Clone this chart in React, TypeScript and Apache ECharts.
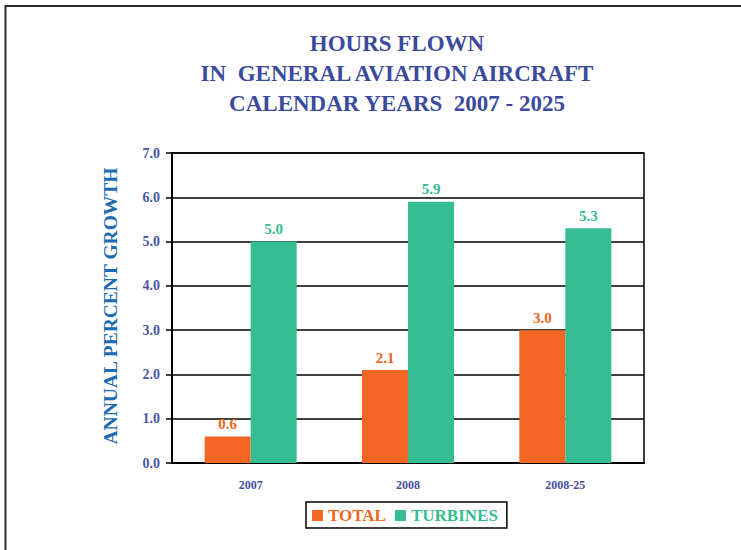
import React, { useEffect, useRef } from "react";
import * as echarts from "echarts";

const categories = ["2007", "2008", "2008-25"];
const totalValues = [0.6, 2.1, 3.0];
const turbineValues = [5.0, 5.9, 5.3];
const seriesNames = ["TOTAL", "TURBINES"];
const titleLines = ["HOURS FLOWN", "IN  GENERAL AVIATION AIRCRAFT", "CALENDAR YEARS  2007 - 2025"];

const ORANGE = "#f26522";
const GREEN = "#35bc93";
const NAVY = "#3c4a9e";
const SERIF = "Liberation Serif";

export default function App() {
  const ref = useRef<HTMLDivElement>(null);
  useEffect(() => {
    if (!ref.current) return;
    const chart = echarts.init(ref.current, null, { renderer: "svg" });
    chart.setOption({
      animation: false,
      backgroundColor: "#ffffff",
      textStyle: { fontFamily: SERIF },
      title: {
        text: titleLines.join("\n"),
        left: 392,
        textAlign: "center",
        top: 23,
        textStyle: {
          fontFamily: SERIF,
          fontWeight: "bold",
          fontSize: 23,
          lineHeight: 30,
          color: NAVY,
        },
      },
      graphic: [
        {
          type: "rect",
          shape: { x: 5.5, y: 6, width: 800, height: 600 },
          style: { fill: "none", stroke: "#2a2a2a", lineWidth: 2 },
          silent: true,
        },
      ],
      legend: {
        left: 306,
        top: 502,
        itemWidth: 11,
        itemHeight: 11,
        itemGap: 9,
        padding: [5, 9, 4, 6],
        borderColor: "#000",
        borderWidth: 1.5,
        icon: "rect",
        textStyle: { fontFamily: SERIF, fontSize: 17, fontWeight: "bold" },
        data: [
          { name: seriesNames[0], textStyle: { color: ORANGE } },
          { name: seriesNames[1], textStyle: { color: GREEN } },
        ],
      },
      grid: {
        left: 172,
        right: 97,
        top: 153,
        bottom: 87,
        show: true,
        borderColor: "#000",
        borderWidth: 1.5,
      },
      xAxis: {
        type: "category",
        data: categories,
        axisLine: { show: true, lineStyle: { color: "#000", width: 2 } },
        axisTick: { show: false },
        axisLabel: {
          margin: 16,
          fontFamily: SERIF,
          fontWeight: "bold",
          fontSize: 12,
          color: "#4550a0",
        },
      },
      yAxis: {
        type: "value",
        min: 0,
        max: 7,
        interval: 1,
        name: "ANNUAL PERCENT GROWTH",
        nameLocation: "middle",
        nameGap: 52,
        nameRotate: 90,
        nameTextStyle: {
          fontFamily: SERIF,
          fontWeight: "bold",
          fontSize: 19.5,
          color: "#1c6bb0",
          padding: [0, 0, 0, 4],
        },
        axisLine: { show: true, lineStyle: { color: "#000", width: 2 } },
        axisTick: { show: true, length: 6, lineStyle: { color: "#000", width: 1.5 } },
        splitLine: { show: true, lineStyle: { color: "#000", width: 1.5 } },
        axisLabel: {
          margin: 12,
          fontFamily: SERIF,
          fontWeight: "bold",
          fontSize: 14,
          color: "#4a55a2",
          formatter: (v: number) => v.toFixed(1),
        },
      },
      series: [
        {
          name: seriesNames[0],
          type: "bar",
          data: totalValues,
          barWidth: 46,
          barGap: "0%",
          itemStyle: { color: ORANGE },
          label: {
            show: true,
            position: "top",
            distance: 5,
            fontFamily: SERIF,
            fontWeight: "bold",
            fontSize: 15,
            color: ORANGE,
            formatter: (p: any) => Number(p.value).toFixed(1),
          },
        },
        {
          name: seriesNames[1],
          type: "bar",
          data: turbineValues,
          barWidth: 46,
          barGap: "0%",
          itemStyle: { color: GREEN },
          label: {
            show: true,
            position: "top",
            distance: 5,
            fontFamily: SERIF,
            fontWeight: "bold",
            fontSize: 15,
            color: GREEN,
            formatter: (p: any) => Number(p.value).toFixed(1),
          },
        },
      ],
    });
    return () => chart.dispose();
  }, []);
  return (
    <div
      ref={ref}
      style={{ position: "fixed", left: 0, top: 0, width: 741, height: 550 }}
    />
  );
}
